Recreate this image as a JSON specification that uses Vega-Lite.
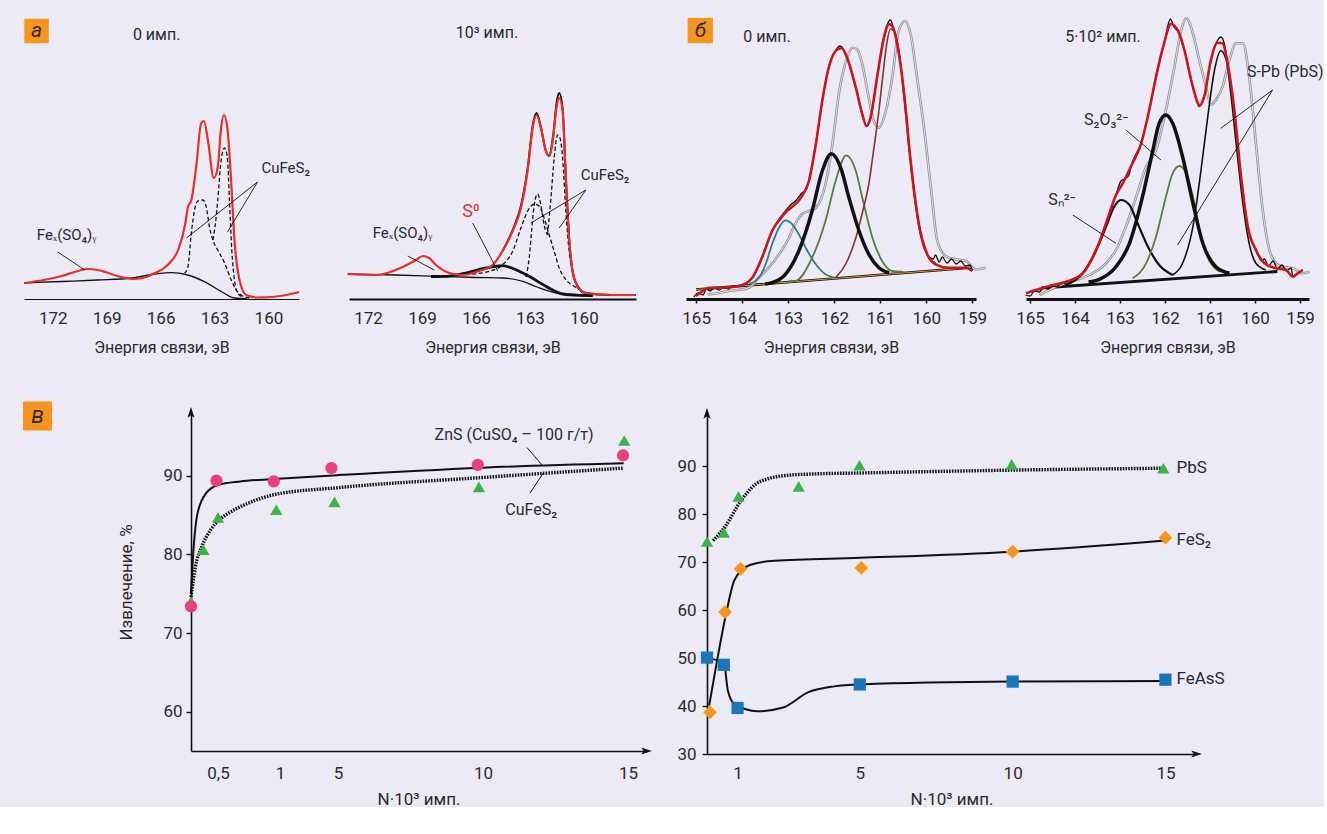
{
"$schema":"https://vega.github.io/schema/vega-lite/v6.json",
"background":"#ecebf5",
"padding":{"left":20,"top":9,"right":0,"bottom":0},
"spacing":45,
"align":"none",
"config":{
 "font":"Roboto",
 "view":{"stroke":null},
 "axis":{"grid":false,"domainColor":"#111111","tickColor":"#111111","labelColor":"#2a2a2a","titleColor":"#2a2a2a","titleFontWeight":"normal","labelFont":"Roboto","titleFont":"Roboto","labelFlush":false,"labelOverlap":false},
 "text":{"font":"Roboto","color":"#2a2a2a"}
},
"datasets":{
"spectra":[
{"p":"a0","s":"bg","E":173.6,"I":16},{"p":"a0","s":"bg","E":171.5,"I":17.5},{"p":"a0","s":"bg","E":169.5,"I":19},{"p":"a0","s":"bg","E":167.6,"I":21},{"p":"a0","s":"bg","E":166.3,"I":25},{"p":"a0","s":"bg","E":165.4,"I":26.3},{"p":"a0","s":"bg","E":164.5,"I":24},{"p":"a0","s":"bg","E":163.56,"I":17.3},{"p":"a0","s":"bg","E":162.6,"I":7.3},{"p":"a0","s":"bg","E":161.9,"I":1},{"p":"a0","s":"bg","E":161.2,"I":0.3},
{"p":"a0","s":"d1","E":164.67,"I":25.7},{"p":"a0","s":"d1","E":164.48,"I":32},{"p":"a0","s":"d1","E":164.29,"I":66},{"p":"a0","s":"d1","E":164.11,"I":89},{"p":"a0","s":"d1","E":163.93,"I":98},{"p":"a0","s":"d1","E":163.65,"I":99},{"p":"a0","s":"d1","E":163.46,"I":92},{"p":"a0","s":"d1","E":163.28,"I":72},{"p":"a0","s":"d1","E":163.09,"I":59},{"p":"a0","s":"d1","E":162.82,"I":49},{"p":"a0","s":"d1","E":162.44,"I":36},{"p":"a0","s":"d1","E":162.07,"I":19},{"p":"a0","s":"d1","E":161.79,"I":9},{"p":"a0","s":"d1","E":161.52,"I":4},{"p":"a0","s":"d1","E":161.06,"I":1},
{"p":"a0","s":"d2","E":163.09,"I":59},{"p":"a0","s":"d2","E":162.94,"I":77},{"p":"a0","s":"d2","E":162.82,"I":99},{"p":"a0","s":"d2","E":162.63,"I":139},{"p":"a0","s":"d2","E":162.44,"I":151},{"p":"a0","s":"d2","E":162.29,"I":142},{"p":"a0","s":"d2","E":162.17,"I":99},{"p":"a0","s":"d2","E":162.04,"I":49},{"p":"a0","s":"d2","E":161.89,"I":19},{"p":"a0","s":"d2","E":161.71,"I":6},{"p":"a0","s":"d2","E":161.44,"I":2},
{"p":"a0","s":"red","E":173.56,"I":16},{"p":"a0","s":"red","E":172.5,"I":19},{"p":"a0","s":"red","E":171.5,"I":23},{"p":"a0","s":"red","E":170.6,"I":28},{"p":"a0","s":"red","E":170.1,"I":30},{"p":"a0","s":"red","E":169.5,"I":29},{"p":"a0","s":"red","E":168.9,"I":26},{"p":"a0","s":"red","E":168.2,"I":22},{"p":"a0","s":"red","E":167.5,"I":20},{"p":"a0","s":"red","E":166.8,"I":22},{"p":"a0","s":"red","E":166.3,"I":26},{"p":"a0","s":"red","E":165.8,"I":31},{"p":"a0","s":"red","E":165.4,"I":38},{"p":"a0","s":"red","E":165.0,"I":50},{"p":"a0","s":"red","E":164.6,"I":78},{"p":"a0","s":"red","E":164.48,"I":92},{"p":"a0","s":"red","E":164.29,"I":99},{"p":"a0","s":"red","E":164.02,"I":132},{"p":"a0","s":"red","E":163.74,"I":176},{"p":"a0","s":"red","E":163.59,"I":178},{"p":"a0","s":"red","E":163.37,"I":159},{"p":"a0","s":"red","E":163.04,"I":121},{"p":"a0","s":"red","E":162.82,"I":132},{"p":"a0","s":"red","E":162.63,"I":172},{"p":"a0","s":"red","E":162.48,"I":184},{"p":"a0","s":"red","E":162.29,"I":172},{"p":"a0","s":"red","E":162.07,"I":116},{"p":"a0","s":"red","E":161.89,"I":59},{"p":"a0","s":"red","E":161.61,"I":19},{"p":"a0","s":"red","E":161.24,"I":4},{"p":"a0","s":"red","E":160.6,"I":1.5},{"p":"a0","s":"red","E":159.8,"I":2},{"p":"a0","s":"red","E":159.0,"I":4},{"p":"a0","s":"red","E":158.3,"I":7},
{"p":"a1","s":"bg","E":173.13,"I":25},{"p":"a1","s":"bg","E":170.5,"I":24},{"p":"a1","s":"bg","E":168.2,"I":22.7},{"p":"a1","s":"bg","E":166.0,"I":21.5},{"p":"a1","s":"bg","E":164.5,"I":21},{"p":"a1","s":"bg","E":163.4,"I":17.7},{"p":"a1","s":"bg","E":162.6,"I":12},{"p":"a1","s":"bg","E":161.9,"I":7.7},{"p":"a1","s":"bg","E":160.8,"I":4.3},{"p":"a1","s":"bg","E":159.0,"I":4.3},{"p":"a1","s":"bg","E":157.1,"I":4.3},
{"p":"a1","s":"s0","E":168.5,"I":22.5},{"p":"a1","s":"s0","E":167.67,"I":22.7},{"p":"a1","s":"s0","E":166.56,"I":26},{"p":"a1","s":"s0","E":165.44,"I":31},{"p":"a1","s":"s0","E":164.52,"I":33.3},{"p":"a1","s":"s0","E":163.78,"I":29.3},{"p":"a1","s":"s0","E":163.04,"I":22.7},{"p":"a1","s":"s0","E":162.11,"I":12.7},{"p":"a1","s":"s0","E":161.18,"I":5},{"p":"a1","s":"s0","E":160.26,"I":3.7},{"p":"a1","s":"s0","E":159.5,"I":3.5},
{"p":"a1","s":"dA","E":166.56,"I":24.3},{"p":"a1","s":"dA","E":165.26,"I":27.7},{"p":"a1","s":"dA","E":164.52,"I":34.3},{"p":"a1","s":"dA","E":163.96,"I":47.7},{"p":"a1","s":"dA","E":163.5,"I":71},{"p":"a1","s":"dA","E":163.13,"I":87.7},{"p":"a1","s":"dA","E":162.76,"I":95},{"p":"a1","s":"dA","E":162.48,"I":92.7},{"p":"a1","s":"dA","E":162.21,"I":81},{"p":"a1","s":"dA","E":161.93,"I":64.3},{"p":"a1","s":"dA","E":161.65,"I":47.7},{"p":"a1","s":"dA","E":161.37,"I":31},{"p":"a1","s":"dA","E":161.0,"I":19.3},{"p":"a1","s":"dA","E":160.54,"I":12.7},{"p":"a1","s":"dA","E":160.1,"I":8},
{"p":"a1","s":"dB","E":163.22,"I":22},{"p":"a1","s":"dB","E":163.04,"I":41},{"p":"a1","s":"dB","E":162.89,"I":71},{"p":"a1","s":"dB","E":162.76,"I":94},{"p":"a1","s":"dB","E":162.57,"I":105},{"p":"a1","s":"dB","E":162.39,"I":94},{"p":"a1","s":"dB","E":162.21,"I":74},{"p":"a1","s":"dB","E":162.02,"I":64},
{"p":"a1","s":"dC","E":162.02,"I":64},{"p":"a1","s":"dC","E":161.83,"I":101},{"p":"a1","s":"dC","E":161.65,"I":141},{"p":"a1","s":"dC","E":161.46,"I":164},{"p":"a1","s":"dC","E":161.33,"I":161},{"p":"a1","s":"dC","E":161.18,"I":141},{"p":"a1","s":"dC","E":161.0,"I":88},{"p":"a1","s":"dC","E":160.82,"I":48},{"p":"a1","s":"dC","E":160.54,"I":21},{"p":"a1","s":"dC","E":160.26,"I":9},{"p":"a1","s":"dC","E":159.89,"I":5},
{"p":"a1","s":"blk","E":164.52,"I":48},{"p":"a1","s":"blk","E":163.96,"I":69},{"p":"a1","s":"blk","E":163.5,"I":93},{"p":"a1","s":"blk","E":163.13,"I":130},{"p":"a1","s":"blk","E":162.82,"I":176},{"p":"a1","s":"blk","E":162.63,"I":186},{"p":"a1","s":"blk","E":162.39,"I":172},{"p":"a1","s":"blk","E":162.11,"I":148},{"p":"a1","s":"blk","E":161.93,"I":143},{"p":"a1","s":"blk","E":161.71,"I":163},{"p":"a1","s":"blk","E":161.5,"I":198},{"p":"a1","s":"blk","E":161.37,"I":206},{"p":"a1","s":"blk","E":161.18,"I":190},{"p":"a1","s":"blk","E":161.0,"I":121},{"p":"a1","s":"blk","E":160.82,"I":61},{"p":"a1","s":"blk","E":160.63,"I":28},{"p":"a1","s":"blk","E":160.35,"I":13},{"p":"a1","s":"blk","E":159.89,"I":6},{"p":"a1","s":"blk","E":158.41,"I":4},{"p":"a1","s":"blk","E":157.11,"I":4},
{"p":"a1","s":"red","E":173.13,"I":25},{"p":"a1","s":"red","E":171.56,"I":24},{"p":"a1","s":"red","E":170.07,"I":32},{"p":"a1","s":"red","E":169.33,"I":39},{"p":"a1","s":"red","E":168.96,"I":43},{"p":"a1","s":"red","E":168.61,"I":41},{"p":"a1","s":"red","E":168.22,"I":34},{"p":"a1","s":"red","E":167.48,"I":26},{"p":"a1","s":"red","E":166.74,"I":24},{"p":"a1","s":"red","E":165.82,"I":28},{"p":"a1","s":"red","E":165.07,"I":34},{"p":"a1","s":"red","E":164.52,"I":48},{"p":"a1","s":"red","E":163.96,"I":68},{"p":"a1","s":"red","E":163.5,"I":91},{"p":"a1","s":"red","E":163.13,"I":128},{"p":"a1","s":"red","E":162.82,"I":174},{"p":"a1","s":"red","E":162.63,"I":184},{"p":"a1","s":"red","E":162.39,"I":171},{"p":"a1","s":"red","E":162.11,"I":148},{"p":"a1","s":"red","E":161.93,"I":143},{"p":"a1","s":"red","E":161.71,"I":161},{"p":"a1","s":"red","E":161.5,"I":194},{"p":"a1","s":"red","E":161.37,"I":201},{"p":"a1","s":"red","E":161.18,"I":188},{"p":"a1","s":"red","E":161.0,"I":121},{"p":"a1","s":"red","E":160.82,"I":61},{"p":"a1","s":"red","E":160.63,"I":28},{"p":"a1","s":"red","E":160.35,"I":13},{"p":"a1","s":"red","E":159.89,"I":6},{"p":"a1","s":"red","E":158.41,"I":4},{"p":"a1","s":"red","E":157.11,"I":4},
{"p":"b0","s":"base","E":165.0,"I":9.5},{"p":"b0","s":"base","E":159.0,"I":31.5},
{"p":"b0","s":"gray","E":164.75,"I":4.5},{"p":"b0","s":"gray","E":164.5,"I":6},{"p":"b0","s":"gray","E":164.29,"I":8},{"p":"b0","s":"gray","E":164.1,"I":9},{"p":"b0","s":"gray","E":163.85,"I":11.3},{"p":"b0","s":"gray","E":163.64,"I":21.3},{"p":"b0","s":"gray","E":163.42,"I":31.3},{"p":"b0","s":"gray","E":163.2,"I":44.7},{"p":"b0","s":"gray","E":162.98,"I":61.3},{"p":"b0","s":"gray","E":162.85,"I":75},{"p":"b0","s":"gray","E":162.7,"I":84.7},{"p":"b0","s":"gray","E":162.55,"I":88},{"p":"b0","s":"gray","E":162.4,"I":91.3},{"p":"b0","s":"gray","E":162.19,"I":114.7},{"p":"b0","s":"gray","E":162.04,"I":154.7},{"p":"b0","s":"gray","E":161.9,"I":204.7},{"p":"b0","s":"gray","E":161.72,"I":241.3},{"p":"b0","s":"gray","E":161.61,"I":251.3},{"p":"b0","s":"gray","E":161.5,"I":249.7},{"p":"b0","s":"gray","E":161.39,"I":234.7},{"p":"b0","s":"gray","E":161.25,"I":201.3},{"p":"b0","s":"gray","E":161.14,"I":178},{"p":"b0","s":"gray","E":161.03,"I":171.3},{"p":"b0","s":"gray","E":160.88,"I":188},{"p":"b0","s":"gray","E":160.74,"I":221.3},{"p":"b0","s":"gray","E":160.6,"I":268},{"p":"b0","s":"gray","E":160.46,"I":278},{"p":"b0","s":"gray","E":160.34,"I":264.7},{"p":"b0","s":"gray","E":160.2,"I":221.3},{"p":"b0","s":"gray","E":160.05,"I":171.3},{"p":"b0","s":"gray","E":159.9,"I":111.3},{"p":"b0","s":"gray","E":159.76,"I":58},{"p":"b0","s":"gray","E":159.58,"I":43},{"p":"b0","s":"gray","E":159.36,"I":39.7},{"p":"b0","s":"gray","E":159.14,"I":38},{"p":"b0","s":"gray","E":158.93,"I":29.7},{"p":"b0","s":"gray","E":158.71,"I":31.3},
{"p":"b0","s":"teal","E":163.85,"I":15},{"p":"b0","s":"teal","E":163.64,"I":21.3},{"p":"b0","s":"teal","E":163.49,"I":34.7},{"p":"b0","s":"teal","E":163.35,"I":54.7},{"p":"b0","s":"teal","E":163.2,"I":71.3},{"p":"b0","s":"teal","E":163.06,"I":78.7},{"p":"b0","s":"teal","E":162.91,"I":74.7},{"p":"b0","s":"teal","E":162.77,"I":64.7},{"p":"b0","s":"teal","E":162.62,"I":51.3},{"p":"b0","s":"teal","E":162.4,"I":34.7},{"p":"b0","s":"teal","E":162.19,"I":24.7},{"p":"b0","s":"teal","E":161.97,"I":21.3},
{"p":"b0","s":"green","E":163.0,"I":17.5},{"p":"b0","s":"green","E":162.84,"I":18},{"p":"b0","s":"green","E":162.48,"I":41.3},{"p":"b0","s":"green","E":162.19,"I":78},{"p":"b0","s":"green","E":161.97,"I":118},{"p":"b0","s":"green","E":161.74,"I":143.7},{"p":"b0","s":"green","E":161.53,"I":128},{"p":"b0","s":"green","E":161.39,"I":101.3},{"p":"b0","s":"green","E":161.17,"I":61.3},{"p":"b0","s":"green","E":160.96,"I":38},{"p":"b0","s":"green","E":160.74,"I":28},{"p":"b0","s":"green","E":160.5,"I":27},
{"p":"b0","s":"brown","E":161.97,"I":21.3},{"p":"b0","s":"brown","E":161.75,"I":35},{"p":"b0","s":"brown","E":161.53,"I":61.3},{"p":"b0","s":"brown","E":161.39,"I":86},{"p":"b0","s":"brown","E":161.25,"I":114.7},{"p":"b0","s":"brown","E":161.14,"I":150},{"p":"b0","s":"brown","E":161.03,"I":188},{"p":"b0","s":"brown","E":160.94,"I":225},{"p":"b0","s":"brown","E":160.85,"I":258},{"p":"b0","s":"brown","E":160.78,"I":270},{"p":"b0","s":"brown","E":160.7,"I":268},{"p":"b0","s":"brown","E":160.6,"I":250},{"p":"b0","s":"brown","E":160.48,"I":200},{"p":"b0","s":"brown","E":160.34,"I":135},{"p":"b0","s":"brown","E":160.16,"I":72},{"p":"b0","s":"brown","E":159.98,"I":44},{"p":"b0","s":"brown","E":159.8,"I":36},
{"p":"b0","s":"blkc","E":163.5,"I":15},{"p":"b0","s":"blkc","E":163.35,"I":16.3},{"p":"b0","s":"blkc","E":163.06,"I":24.7},{"p":"b0","s":"blkc","E":162.77,"I":48},{"p":"b0","s":"blkc","E":162.48,"I":88},{"p":"b0","s":"blkc","E":162.26,"I":128},{"p":"b0","s":"blkc","E":162.06,"I":145.3},{"p":"b0","s":"blkc","E":161.86,"I":131.3},{"p":"b0","s":"blkc","E":161.68,"I":101.3},{"p":"b0","s":"blkc","E":161.46,"I":68},{"p":"b0","s":"blkc","E":161.25,"I":44.7},{"p":"b0","s":"blkc","E":161.03,"I":31.3},{"p":"b0","s":"blkc","E":160.81,"I":26.3},
{"p":"b0","s":"blk","E":165.05,"I":2},{"p":"b0","s":"blk","E":164.95,"I":6},{"p":"b0","s":"blk","E":164.85,"I":4},{"p":"b0","s":"blk","E":164.78,"I":10},{"p":"b0","s":"blk","E":164.7,"I":8},{"p":"b0","s":"blk","E":164.6,"I":11},{"p":"b0","s":"blk","E":164.5,"I":9},{"p":"b0","s":"blk","E":164.4,"I":12},{"p":"b0","s":"blk","E":164.3,"I":10},{"p":"b0","s":"blk","E":164.2,"I":13},{"p":"b0","s":"blk","E":164.07,"I":13},{"p":"b0","s":"blk","E":163.78,"I":21},{"p":"b0","s":"blk","E":163.57,"I":41},{"p":"b0","s":"blk","E":163.35,"I":68},{"p":"b0","s":"blk","E":163.2,"I":80},{"p":"b0","s":"blk","E":163.06,"I":88},{"p":"b0","s":"blk","E":162.95,"I":94},{"p":"b0","s":"blk","E":162.84,"I":98},{"p":"b0","s":"blk","E":162.77,"I":102},{"p":"b0","s":"blk","E":162.7,"I":106},{"p":"b0","s":"blk","E":162.6,"I":110},{"p":"b0","s":"blk","E":162.55,"I":118},{"p":"b0","s":"blk","E":162.4,"I":155},{"p":"b0","s":"blk","E":162.26,"I":198},{"p":"b0","s":"blk","E":162.12,"I":231},{"p":"b0","s":"blk","E":161.95,"I":250},{"p":"b0","s":"blk","E":161.88,"I":253},{"p":"b0","s":"blk","E":161.8,"I":250},{"p":"b0","s":"blk","E":161.72,"I":241},{"p":"b0","s":"blk","E":161.53,"I":211},{"p":"b0","s":"blk","E":161.39,"I":185},{"p":"b0","s":"blk","E":161.3,"I":173},{"p":"b0","s":"blk","E":161.21,"I":181},{"p":"b0","s":"blk","E":161.07,"I":221},{"p":"b0","s":"blk","E":160.92,"I":263},{"p":"b0","s":"blk","E":160.78,"I":279},{"p":"b0","s":"blk","E":160.72,"I":272},{"p":"b0","s":"blk","E":160.63,"I":255},{"p":"b0","s":"blk","E":160.48,"I":205},{"p":"b0","s":"blk","E":160.34,"I":138},{"p":"b0","s":"blk","E":160.16,"I":75},{"p":"b0","s":"blk","E":159.98,"I":45},{"p":"b0","s":"blk","E":159.85,"I":40},{"p":"b0","s":"blk","E":159.8,"I":44},{"p":"b0","s":"blk","E":159.72,"I":37},{"p":"b0","s":"blk","E":159.65,"I":42},{"p":"b0","s":"blk","E":159.55,"I":36},{"p":"b0","s":"blk","E":159.45,"I":40},{"p":"b0","s":"blk","E":159.35,"I":35},{"p":"b0","s":"blk","E":159.25,"I":38},{"p":"b0","s":"blk","E":159.15,"I":33},{"p":"b0","s":"blk","E":159.05,"I":34},{"p":"b0","s":"blk","E":159.0,"I":28},
{"p":"b0","s":"red","E":165.01,"I":3},{"p":"b0","s":"red","E":164.85,"I":8},{"p":"b0","s":"red","E":164.72,"I":11.3},{"p":"b0","s":"red","E":164.43,"I":11.3},{"p":"b0","s":"red","E":164.07,"I":13},{"p":"b0","s":"red","E":163.78,"I":21.3},{"p":"b0","s":"red","E":163.57,"I":41.3},{"p":"b0","s":"red","E":163.35,"I":68},{"p":"b0","s":"red","E":163.06,"I":86.3},{"p":"b0","s":"red","E":162.7,"I":103},{"p":"b0","s":"red","E":162.55,"I":118},{"p":"b0","s":"red","E":162.4,"I":154.7},{"p":"b0","s":"red","E":162.26,"I":198},{"p":"b0","s":"red","E":162.12,"I":231.3},{"p":"b0","s":"red","E":161.93,"I":249.7},{"p":"b0","s":"red","E":161.84,"I":250.7},{"p":"b0","s":"red","E":161.72,"I":241.3},{"p":"b0","s":"red","E":161.53,"I":211.3},{"p":"b0","s":"red","E":161.39,"I":184.7},{"p":"b0","s":"red","E":161.3,"I":173},{"p":"b0","s":"red","E":161.21,"I":181.3},{"p":"b0","s":"red","E":161.07,"I":221.3},{"p":"b0","s":"red","E":160.92,"I":261.3},{"p":"b0","s":"red","E":160.81,"I":274.7},{"p":"b0","s":"red","E":160.74,"I":273},{"p":"b0","s":"red","E":160.63,"I":254.7},{"p":"b0","s":"red","E":160.48,"I":204.7},{"p":"b0","s":"red","E":160.34,"I":138},{"p":"b0","s":"red","E":160.16,"I":74.7},{"p":"b0","s":"red","E":159.98,"I":44.7},{"p":"b0","s":"red","E":159.8,"I":34.7},{"p":"b0","s":"red","E":159.51,"I":31.3},{"p":"b0","s":"red","E":159.14,"I":31.3},{"p":"b0","s":"red","E":159.0,"I":28},
{"p":"b1","s":"base","E":164.75,"I":11},{"p":"b1","s":"base","E":159.5,"I":27.5},
{"p":"b1","s":"gray","E":164.79,"I":4},{"p":"b1","s":"gray","E":164.42,"I":12.3},{"p":"b1","s":"gray","E":163.98,"I":19},{"p":"b1","s":"gray","E":163.61,"I":25.7},{"p":"b1","s":"gray","E":163.31,"I":35.7},{"p":"b1","s":"gray","E":163.09,"I":49},{"p":"b1","s":"gray","E":162.87,"I":72.3},{"p":"b1","s":"gray","E":162.64,"I":102.3},{"p":"b1","s":"gray","E":162.42,"I":132.3},{"p":"b1","s":"gray","E":162.2,"I":149},{"p":"b1","s":"gray","E":161.98,"I":189},{"p":"b1","s":"gray","E":161.79,"I":232.3},{"p":"b1","s":"gray","E":161.64,"I":269},{"p":"b1","s":"gray","E":161.53,"I":280.7},{"p":"b1","s":"gray","E":161.38,"I":265.7},{"p":"b1","s":"gray","E":161.24,"I":239},{"p":"b1","s":"gray","E":161.09,"I":212.3},{"p":"b1","s":"gray","E":160.98,"I":194},{"p":"b1","s":"gray","E":160.87,"I":199},{"p":"b1","s":"gray","E":160.72,"I":212.3},{"p":"b1","s":"gray","E":160.57,"I":239},{"p":"b1","s":"gray","E":160.42,"I":255.7},{"p":"b1","s":"gray","E":160.27,"I":255.7},{"p":"b1","s":"gray","E":160.13,"I":222.3},{"p":"b1","s":"gray","E":159.98,"I":155.7},{"p":"b1","s":"gray","E":159.83,"I":89},{"p":"b1","s":"gray","E":159.68,"I":49},{"p":"b1","s":"gray","E":159.53,"I":35.7},{"p":"b1","s":"gray","E":159.38,"I":32.3},{"p":"b1","s":"gray","E":159.16,"I":30.7},{"p":"b1","s":"gray","E":158.94,"I":25.7},{"p":"b1","s":"gray","E":158.79,"I":27.3},
{"p":"b1","s":"sn","E":164.2,"I":14},{"p":"b1","s":"sn","E":163.83,"I":25.7},{"p":"b1","s":"sn","E":163.53,"I":49},{"p":"b1","s":"sn","E":163.31,"I":72.3},{"p":"b1","s":"sn","E":163.13,"I":92.3},{"p":"b1","s":"sn","E":162.98,"I":99},{"p":"b1","s":"sn","E":162.79,"I":94},{"p":"b1","s":"sn","E":162.61,"I":75.7},{"p":"b1","s":"sn","E":162.38,"I":52.3},{"p":"b1","s":"sn","E":162.13,"I":34},{"p":"b1","s":"sn","E":161.83,"I":24},
{"p":"b1","s":"green","E":162.72,"I":20.7},{"p":"b1","s":"green","E":162.42,"I":35.7},{"p":"b1","s":"green","E":162.2,"I":62.3},{"p":"b1","s":"green","E":161.98,"I":102.3},{"p":"b1","s":"green","E":161.83,"I":125.7},{"p":"b1","s":"green","E":161.68,"I":133},{"p":"b1","s":"green","E":161.53,"I":125.7},{"p":"b1","s":"green","E":161.38,"I":102.3},{"p":"b1","s":"green","E":161.2,"I":62.3},{"p":"b1","s":"green","E":161.02,"I":39},{"p":"b1","s":"green","E":160.79,"I":27.3},
{"p":"b1","s":"s2o3","E":163.7,"I":17},{"p":"b1","s":"s2o3","E":163.46,"I":19.7},{"p":"b1","s":"s2o3","E":163.09,"I":32.3},{"p":"b1","s":"s2o3","E":162.79,"I":55.7},{"p":"b1","s":"s2o3","E":162.5,"I":102.3},{"p":"b1","s":"s2o3","E":162.27,"I":149},{"p":"b1","s":"s2o3","E":162.13,"I":175.7},{"p":"b1","s":"s2o3","E":161.98,"I":184},{"p":"b1","s":"s2o3","E":161.83,"I":175.7},{"p":"b1","s":"s2o3","E":161.61,"I":142.3},{"p":"b1","s":"s2o3","E":161.38,"I":95.7},{"p":"b1","s":"s2o3","E":161.16,"I":55.7},{"p":"b1","s":"s2o3","E":160.87,"I":32.3},{"p":"b1","s":"s2o3","E":160.57,"I":25.7},
{"p":"b1","s":"spb","E":161.83,"I":24},{"p":"b1","s":"spb","E":161.61,"I":35.7},{"p":"b1","s":"spb","E":161.38,"I":72.3},{"p":"b1","s":"spb","E":161.2,"I":129},{"p":"b1","s":"spb","E":161.05,"I":182.3},{"p":"b1","s":"spb","E":160.9,"I":229},{"p":"b1","s":"spb","E":160.76,"I":248.3},{"p":"b1","s":"spb","E":160.64,"I":239},{"p":"b1","s":"spb","E":160.53,"I":202.3},{"p":"b1","s":"spb","E":160.42,"I":155.7},{"p":"b1","s":"spb","E":160.27,"I":95.7},{"p":"b1","s":"spb","E":160.13,"I":55.7},{"p":"b1","s":"spb","E":159.98,"I":35.7},{"p":"b1","s":"spb","E":159.76,"I":29},
{"p":"b1","s":"blk","E":165.1,"I":4},{"p":"b1","s":"blk","E":165.0,"I":3},{"p":"b1","s":"blk","E":164.9,"I":8},{"p":"b1","s":"blk","E":164.8,"I":7},{"p":"b1","s":"blk","E":164.7,"I":11},{"p":"b1","s":"blk","E":164.6,"I":10},{"p":"b1","s":"blk","E":164.5,"I":13},{"p":"b1","s":"blk","E":164.4,"I":12},{"p":"b1","s":"blk","E":164.3,"I":16},{"p":"b1","s":"blk","E":164.2,"I":15},{"p":"b1","s":"blk","E":164.0,"I":20},{"p":"b1","s":"blk","E":163.83,"I":26},{"p":"b1","s":"blk","E":163.53,"I":49},{"p":"b1","s":"blk","E":163.31,"I":76},{"p":"b1","s":"blk","E":163.09,"I":104},{"p":"b1","s":"blk","E":162.98,"I":118},{"p":"b1","s":"blk","E":162.9,"I":120},{"p":"b1","s":"blk","E":162.8,"I":124},{"p":"b1","s":"blk","E":162.76,"I":132},{"p":"b1","s":"blk","E":162.53,"I":156},{"p":"b1","s":"blk","E":162.35,"I":189},{"p":"b1","s":"blk","E":162.2,"I":222},{"p":"b1","s":"blk","E":162.02,"I":256},{"p":"b1","s":"blk","E":161.88,"I":280},{"p":"b1","s":"blk","E":161.8,"I":272},{"p":"b1","s":"blk","E":161.72,"I":268},{"p":"b1","s":"blk","E":161.57,"I":249},{"p":"b1","s":"blk","E":161.42,"I":219},{"p":"b1","s":"blk","E":161.27,"I":196},{"p":"b1","s":"blk","E":161.24,"I":193},{"p":"b1","s":"blk","E":161.13,"I":202},{"p":"b1","s":"blk","E":160.98,"I":239},{"p":"b1","s":"blk","E":160.83,"I":259},{"p":"b1","s":"blk","E":160.76,"I":262},{"p":"b1","s":"blk","E":160.68,"I":255},{"p":"b1","s":"blk","E":160.61,"I":236},{"p":"b1","s":"blk","E":160.46,"I":189},{"p":"b1","s":"blk","E":160.31,"I":122},{"p":"b1","s":"blk","E":160.16,"I":72},{"p":"b1","s":"blk","E":159.98,"I":49},{"p":"b1","s":"blk","E":159.85,"I":38},{"p":"b1","s":"blk","E":159.79,"I":40},{"p":"b1","s":"blk","E":159.7,"I":33},{"p":"b1","s":"blk","E":159.6,"I":38},{"p":"b1","s":"blk","E":159.5,"I":30},{"p":"b1","s":"blk","E":159.4,"I":34},{"p":"b1","s":"blk","E":159.3,"I":28},{"p":"b1","s":"blk","E":159.2,"I":31},{"p":"b1","s":"blk","E":159.16,"I":23},{"p":"b1","s":"blk","E":159.05,"I":26},{"p":"b1","s":"blk","E":158.94,"I":29},
{"p":"b1","s":"red","E":165.09,"I":5.7},{"p":"b1","s":"red","E":164.87,"I":9},{"p":"b1","s":"red","E":164.57,"I":13},{"p":"b1","s":"red","E":164.2,"I":17.3},{"p":"b1","s":"red","E":163.83,"I":25.7},{"p":"b1","s":"red","E":163.53,"I":49},{"p":"b1","s":"red","E":163.31,"I":75.7},{"p":"b1","s":"red","E":163.09,"I":104},{"p":"b1","s":"red","E":162.94,"I":115.7},{"p":"b1","s":"red","E":162.76,"I":132.3},{"p":"b1","s":"red","E":162.53,"I":155.7},{"p":"b1","s":"red","E":162.35,"I":189},{"p":"b1","s":"red","E":162.2,"I":222.3},{"p":"b1","s":"red","E":162.02,"I":255.7},{"p":"b1","s":"red","E":161.87,"I":275},{"p":"b1","s":"red","E":161.72,"I":269},{"p":"b1","s":"red","E":161.57,"I":249},{"p":"b1","s":"red","E":161.42,"I":219},{"p":"b1","s":"red","E":161.27,"I":195.7},{"p":"b1","s":"red","E":161.24,"I":193},{"p":"b1","s":"red","E":161.13,"I":202.3},{"p":"b1","s":"red","E":160.98,"I":239},{"p":"b1","s":"red","E":160.83,"I":256.3},{"p":"b1","s":"red","E":160.72,"I":255.7},{"p":"b1","s":"red","E":160.61,"I":235.7},{"p":"b1","s":"red","E":160.46,"I":189},{"p":"b1","s":"red","E":160.31,"I":122.3},{"p":"b1","s":"red","E":160.16,"I":72.3},{"p":"b1","s":"red","E":159.98,"I":49},{"p":"b1","s":"red","E":159.79,"I":35.7},{"p":"b1","s":"red","E":159.53,"I":30.7},{"p":"b1","s":"red","E":159.31,"I":29},{"p":"b1","s":"red","E":159.16,"I":22.3},{"p":"b1","s":"red","E":159.05,"I":25.7},{"p":"b1","s":"red","E":158.94,"I":29}
],
"notes":[
{"p":"a0","k":"ctr","E":166.22,"I":264,"t":"0 имп."},
{"p":"a0","k":"box","E":172.9,"I":268,"t":"а"},
{"p":"a0","k":"lab","E":160.39,"I":131,"t":"CuFeS₂"},
{"p":"a0","k":"lab","E":172.89,"I":64,"t":"Feₓ(SO₄)ᵧ"},
{"p":"a1","k":"ctr","E":165.39,"I":266,"t":"10³ имп."},
{"p":"a1","k":"red","E":166.28,"I":87,"t":"S⁰"},
{"p":"a1","k":"lab","E":160.17,"I":124,"t":"CuFeS₂"},
{"p":"a1","k":"lab","E":171.74,"I":66,"t":"Feₓ(SO₄)ᵧ"},
{"p":"b0","k":"box","E":164.91,"I":268.5,"t":"б"},
{"p":"b0","k":"ctr","E":163.46,"I":262,"t":"0 имп."},
{"p":"b1","k":"ctr","E":163.38,"I":262,"t":"5·10² имп."},
{"p":"b1","k":"lab","E":160.18,"I":227,"t":"S-Pb (PbS)"},
{"p":"b1","k":"ctr","E":163.31,"I":179,"t":"S₂O₃²⁻"},
{"p":"b1","k":"ctr","E":164.29,"I":99,"t":"Sₙ²⁻"}
],
"arrows":[
{"p":"a0","E":160.61,"I":117,"E2":164.56,"I2":61},
{"p":"a0","E":160.61,"I":117,"E2":162.28,"I2":67},
{"p":"a0","E":171.72,"I":47,"E2":170.22,"I2":29},
{"p":"a1","E":166.18,"I":76,"E2":164.79,"I2":28},
{"p":"a1","E":159.89,"I":109,"E2":162.94,"I2":76},
{"p":"a1","E":159.89,"I":109,"E2":161.37,"I2":71},
{"p":"a1","E":169.79,"I":43,"E2":168.32,"I2":29},
{"p":"b1","E":159.61,"I":209,"E2":160.76,"I2":170.7},
{"p":"b1","E":159.61,"I":209,"E2":161.72,"I2":54},
{"p":"b1","E":162.87,"I":169,"E2":162.09,"I2":139},
{"p":"b1","E":164.05,"I":84,"E2":163.09,"I2":55.7}
],
"rec":[
{"p":"c0","s":"ZnS","N":0,"R":73.4},{"p":"c0","s":"ZnS","N":0.47,"R":89.4},{"p":"c0","s":"ZnS","N":0.95,"R":89.3},{"p":"c0","s":"ZnS","N":4.55,"R":91.0},{"p":"c0","s":"ZnS","N":9.82,"R":91.4},{"p":"c0","s":"ZnS","N":14.83,"R":92.6},
{"p":"c0","s":"CuFeS2","N":0,"R":74.0},{"p":"c0","s":"CuFeS2","N":0.23,"R":80.6},{"p":"c0","s":"CuFeS2","N":0.5,"R":84.7},{"p":"c0","s":"CuFeS2","N":0.97,"R":85.7},{"p":"c0","s":"CuFeS2","N":4.76,"R":86.7},{"p":"c0","s":"CuFeS2","N":9.86,"R":88.6},{"p":"c0","s":"CuFeS2","N":14.87,"R":94.5},
{"p":"c1","s":"PbS","N":0,"R":74.3},{"p":"c1","s":"PbS","N":0.55,"R":76.2},{"p":"c1","s":"PbS","N":1.03,"R":83.7},{"p":"c1","s":"PbS","N":3.0,"R":85.8},{"p":"c1","s":"PbS","N":4.99,"R":90.2},{"p":"c1","s":"PbS","N":9.97,"R":90.4},{"p":"c1","s":"PbS","N":14.93,"R":89.6},
{"p":"c1","s":"FeS2","N":0.1,"R":38.7},{"p":"c1","s":"FeS2","N":0.59,"R":59.6},{"p":"c1","s":"FeS2","N":1.1,"R":68.6},{"p":"c1","s":"FeS2","N":5.05,"R":68.8},{"p":"c1","s":"FeS2","N":10.0,"R":72.2},{"p":"c1","s":"FeS2","N":15.0,"R":75.1},
{"p":"c1","s":"FeAsS","N":0,"R":50.1},{"p":"c1","s":"FeAsS","N":0.55,"R":48.6},{"p":"c1","s":"FeAsS","N":1.0,"R":39.6},{"p":"c1","s":"FeAsS","N":5.0,"R":44.5},{"p":"c1","s":"FeAsS","N":10.0,"R":45.1},{"p":"c1","s":"FeAsS","N":15.0,"R":45.5}
],
"fit":[
{"p":"c0","s":"ZnS","N":0,"R":75.0},{"p":"c0","s":"ZnS","N":0.05,"R":81},{"p":"c0","s":"ZnS","N":0.12,"R":85.2},{"p":"c0","s":"ZnS","N":0.28,"R":87.8},{"p":"c0","s":"ZnS","N":0.5,"R":88.85},{"p":"c0","s":"ZnS","N":0.68,"R":89.3},{"p":"c0","s":"ZnS","N":0.95,"R":89.6},{"p":"c0","s":"ZnS","N":5,"R":90.1},{"p":"c0","s":"ZnS","N":10,"R":91.05},{"p":"c0","s":"ZnS","N":14.85,"R":91.6},
{"p":"c0","s":"CuFeS2","N":0,"R":74.6},{"p":"c0","s":"CuFeS2","N":0.08,"R":78.4},{"p":"c0","s":"CuFeS2","N":0.2,"R":81},{"p":"c0","s":"CuFeS2","N":0.36,"R":83.1},{"p":"c0","s":"CuFeS2","N":0.51,"R":84.4},{"p":"c0","s":"CuFeS2","N":0.6,"R":85.4},{"p":"c0","s":"CuFeS2","N":0.74,"R":86.5},{"p":"c0","s":"CuFeS2","N":0.95,"R":87.6},{"p":"c0","s":"CuFeS2","N":5,"R":88.5},{"p":"c0","s":"CuFeS2","N":10,"R":89.8},{"p":"c0","s":"CuFeS2","N":14.85,"R":91.0},
{"p":"c1","s":"PbS","N":0.2,"R":74.5},{"p":"c1","s":"PbS","N":0.6,"R":77.5},{"p":"c1","s":"PbS","N":1.1,"R":82.7},{"p":"c1","s":"PbS","N":1.6,"R":86.3},{"p":"c1","s":"PbS","N":2.0,"R":87.4},{"p":"c1","s":"PbS","N":2.6,"R":88.1},{"p":"c1","s":"PbS","N":3.5,"R":88.4},{"p":"c1","s":"PbS","N":5,"R":88.6},{"p":"c1","s":"PbS","N":10,"R":89.2},{"p":"c1","s":"PbS","N":15,"R":89.6},
{"p":"c1","s":"FeS2","N":0.07,"R":40.1},{"p":"c1","s":"FeS2","N":0.35,"R":50.2},{"p":"c1","s":"FeS2","N":0.63,"R":59.4},{"p":"c1","s":"FeS2","N":0.9,"R":66.3},{"p":"c1","s":"FeS2","N":1.4,"R":69.4},{"p":"c1","s":"FeS2","N":2.2,"R":70.3},{"p":"c1","s":"FeS2","N":5,"R":70.9},{"p":"c1","s":"FeS2","N":10,"R":72.2},{"p":"c1","s":"FeS2","N":15,"R":74.5},
{"p":"c1","s":"FeAsS","N":0,"R":50.1},{"p":"c1","s":"FeAsS","N":0.56,"R":48.8},{"p":"c1","s":"FeAsS","N":0.68,"R":43.3},{"p":"c1","s":"FeAsS","N":0.89,"R":40.5},{"p":"c1","s":"FeAsS","N":1.65,"R":38.9},{"p":"c1","s":"FeAsS","N":2.49,"R":39.7},{"p":"c1","s":"FeAsS","N":3.32,"R":42.9},{"p":"c1","s":"FeAsS","N":4.16,"R":44.1},{"p":"c1","s":"FeAsS","N":5,"R":44.5},{"p":"c1","s":"FeAsS","N":10,"R":45.1},{"p":"c1","s":"FeAsS","N":15,"R":45.2}
],
"notes2":[
{"p":"c0","k":"ctr","N":11.07,"R":95.2,"t":"ZnS (CuSO₄ – 100 г/т)"},
{"p":"c0","k":"ctr","N":11.66,"R":85.7,"t":"CuFeS₂"},
{"p":"c1","k":"lab","N":15.36,"R":89.7,"t":"PbS"},
{"p":"c1","k":"lab","N":15.36,"R":74.7,"t":"FeS₂"},
{"p":"c1","k":"lab","N":15.36,"R":45.7,"t":"FeAsS"}
],
"arrows2":[
{"p":"c0","N":11.52,"R":93.6,"N2":12.03,"R2":91.4},
{"p":"c0","N":11.62,"R":87.8,"N2":12.1,"R2":90.5}
]
},
"vconcat":[
{"hconcat":[
{
"width":275,"height":290,
"encoding":{
 "x":{"field":"E","type":"quantitative","scale":{"domain":[158.3,173.6],"reverse":true,"nice":false,"zero":false},"axis":{"values":[172,169,166,163,160],"ticks":false,"domainWidth":1.2,"labelFontSize":17,"labelPadding":11,"title":"Энергия связи, эВ","titleFontSize":16,"titlePadding":13}},
 "y":{"field":"I","type":"quantitative","scale":{"domain":[0,290],"nice":false,"zero":false},"axis":null}
},
"layer":[
 {"data":{"name":"spectra"},"transform":[{"filter":"datum.p=='a0'&&datum.s=='bg'"}],"mark":{"type":"line","color":"#111111","strokeWidth":1.3,"interpolate":"monotone"},"encoding":{"order":{"field":"E","sort":"descending"}}},
 {"data":{"name":"spectra"},"transform":[{"filter":"datum.p=='a0'&&(datum.s=='d1'||datum.s=='d2')"}],"mark":{"type":"line","color":"#111111","strokeWidth":1.3,"strokeDash":[4,2.5],"interpolate":"monotone"},"encoding":{"detail":{"field":"s"},"order":{"field":"E","sort":"descending"}}},
 {"data":{"name":"spectra"},"transform":[{"filter":"datum.p=='a0'&&datum.s=='red'"}],"mark":{"type":"line","color":"#e3302a","strokeWidth":2.2,"interpolate":"monotone"},"encoding":{"order":{"field":"E","sort":"descending"}}},
 {"data":{"name":"arrows"},"transform":[{"filter":"datum.p=='a0'"}],"mark":{"type":"rule","color":"#111111","strokeWidth":0.9},"encoding":{"x2":{"field":"E2"},"y2":{"field":"I2"}}},
 {"data":{"name":"notes"},"transform":[{"filter":"datum.p=='a0'&&datum.k=='lab'"}],"mark":{"type":"text","align":"left","baseline":"middle","fontSize":15},"encoding":{"text":{"field":"t"}}},
 {"data":{"name":"notes"},"transform":[{"filter":"datum.p=='a0'&&datum.k=='ctr'"}],"mark":{"type":"text","align":"center","baseline":"middle","fontSize":16},"encoding":{"text":{"field":"t"}}},
 {"data":{"name":"notes"},"transform":[{"filter":"datum.p=='a0'&&datum.k=='box'"}],"mark":{"type":"point","shape":"square","filled":true,"color":"#f7941d","opacity":1,"size":600}},
 {"data":{"name":"notes"},"transform":[{"filter":"datum.p=='a0'&&datum.k=='box'"}],"mark":{"type":"text","align":"center","baseline":"middle","fontSize":21,"fontStyle":"italic","color":"#2a2a2a"},"encoding":{"text":{"field":"t"}}}
]
},
{
"width":287,"height":290,
"encoding":{
 "x":{"field":"E","type":"quantitative","scale":{"domain":[157.1,173.06],"reverse":true,"nice":false,"zero":false},"axis":{"values":[172,169,166,163,160],"ticks":false,"domainWidth":1.8,"labelFontSize":17,"labelPadding":11,"title":"Энергия связи, эВ","titleFontSize":16,"titlePadding":13}},
 "y":{"field":"I","type":"quantitative","scale":{"domain":[0,290],"nice":false,"zero":false},"axis":null}
},
"layer":[
 {"data":{"name":"spectra"},"transform":[{"filter":"datum.p=='a1'&&datum.s=='bg'"}],"mark":{"type":"line","color":"#111111","strokeWidth":1.3,"interpolate":"monotone"},"encoding":{"order":{"field":"E","sort":"descending"}}},
 {"data":{"name":"spectra"},"transform":[{"filter":"datum.p=='a1'&&datum.s=='s0'"}],"mark":{"type":"line","color":"#111111","strokeWidth":2.8,"interpolate":"monotone"},"encoding":{"order":{"field":"E","sort":"descending"}}},
 {"data":{"name":"spectra"},"transform":[{"filter":"datum.p=='a1'&&(datum.s=='dA'||datum.s=='dB'||datum.s=='dC')"}],"mark":{"type":"line","color":"#111111","strokeWidth":1.3,"strokeDash":[4,2.5],"interpolate":"monotone"},"encoding":{"detail":{"field":"s"},"order":{"field":"E","sort":"descending"}}},
 {"data":{"name":"spectra"},"transform":[{"filter":"datum.p=='a1'&&datum.s=='blk'"}],"mark":{"type":"line","color":"#111111","strokeWidth":2,"interpolate":"monotone"},"encoding":{"order":{"field":"E","sort":"descending"}}},
 {"data":{"name":"spectra"},"transform":[{"filter":"datum.p=='a1'&&datum.s=='red'"}],"mark":{"type":"line","color":"#e3302a","strokeWidth":2.2,"interpolate":"monotone"},"encoding":{"order":{"field":"E","sort":"descending"}}},
 {"data":{"name":"arrows"},"transform":[{"filter":"datum.p=='a1'"}],"mark":{"type":"rule","color":"#111111","strokeWidth":0.9},"encoding":{"x2":{"field":"E2"},"y2":{"field":"I2"}}},
 {"data":{"name":"notes"},"transform":[{"filter":"datum.p=='a1'&&datum.k=='lab'"}],"mark":{"type":"text","align":"left","baseline":"middle","fontSize":15},"encoding":{"text":{"field":"t"}}},
 {"data":{"name":"notes"},"transform":[{"filter":"datum.p=='a1'&&datum.k=='ctr'"}],"mark":{"type":"text","align":"center","baseline":"middle","fontSize":16},"encoding":{"text":{"field":"t"}}},
 {"data":{"name":"notes"},"transform":[{"filter":"datum.p=='a1'&&datum.k=='red'"}],"mark":{"type":"text","align":"center","baseline":"middle","fontSize":18,"color":"#e3302a"},"encoding":{"text":{"field":"t"}}}
]
},
{
"width":290,"height":290,
"encoding":{
 "x":{"field":"E","type":"quantitative","scale":{"domain":[158.92,165.22],"reverse":true,"nice":false,"zero":false},"axis":{"values":[165,164,163,162,161,160,159],"ticks":true,"tickSize":4,"tickWidth":1.5,"domainWidth":3,"labelFontSize":17,"labelPadding":7,"title":"Энергия связи, эВ","titleFontSize":16,"titlePadding":13}},
 "y":{"field":"I","type":"quantitative","scale":{"domain":[0,290],"nice":false,"zero":false},"axis":null}
},
"layer":[
 {"data":{"name":"spectra"},"transform":[{"filter":"datum.p=='b0'&&datum.s=='base'"}],"mark":{"type":"line","color":"#111111","strokeWidth":2.6},"encoding":{"order":{"field":"E","sort":"descending"}}},
 {"data":{"name":"spectra"},"transform":[{"filter":"datum.p=='b0'&&datum.s=='base'"}],"mark":{"type":"line","color":"#e8922e","strokeWidth":1},"encoding":{"order":{"field":"E","sort":"descending"}}},
 {"data":{"name":"spectra"},"transform":[{"filter":"datum.p=='b0'&&datum.s=='gray'"}],"mark":{"type":"line","color":"#8f8f8f","strokeWidth":2.6,"interpolate":"monotone"},"encoding":{"order":{"field":"E","sort":"descending"}}},
 {"data":{"name":"spectra"},"transform":[{"filter":"datum.p=='b0'&&datum.s=='gray'"}],"mark":{"type":"line","color":"#ecebf5","strokeWidth":0.9,"interpolate":"monotone"},"encoding":{"order":{"field":"E","sort":"descending"}}},
 {"data":{"name":"spectra"},"transform":[{"filter":"datum.p=='b0'&&datum.s=='teal'"}],"mark":{"type":"line","color":"#2f7d8c","strokeWidth":1.8,"interpolate":"monotone"},"encoding":{"order":{"field":"E","sort":"descending"}}},
 {"data":{"name":"spectra"},"transform":[{"filter":"datum.p=='b0'&&datum.s=='green'"}],"mark":{"type":"line","color":"#5b7d3a","strokeWidth":1.8,"interpolate":"monotone"},"encoding":{"order":{"field":"E","sort":"descending"}}},
 {"data":{"name":"spectra"},"transform":[{"filter":"datum.p=='b0'&&datum.s=='brown'"}],"mark":{"type":"line","color":"#7b3434","strokeWidth":1.6,"interpolate":"monotone"},"encoding":{"order":{"field":"E","sort":"descending"}}},
 {"data":{"name":"spectra"},"transform":[{"filter":"datum.p=='b0'&&datum.s=='blkc'"}],"mark":{"type":"line","color":"#111111","strokeWidth":3.5,"interpolate":"monotone"},"encoding":{"order":{"field":"E","sort":"descending"}}},
 {"data":{"name":"spectra"},"transform":[{"filter":"datum.p=='b0'&&datum.s=='blk'"}],"mark":{"type":"line","color":"#111111","strokeWidth":1.3,"interpolate":"monotone"},"encoding":{"order":{"field":"E","sort":"descending"}}},
 {"data":{"name":"spectra"},"transform":[{"filter":"datum.p=='b0'&&datum.s=='red'"}],"mark":{"type":"line","color":"#c8161d","strokeWidth":2.6,"interpolate":"monotone"},"encoding":{"order":{"field":"E","sort":"descending"}}},
 {"data":{"name":"notes"},"transform":[{"filter":"datum.p=='b0'&&datum.k=='ctr'"}],"mark":{"type":"text","align":"center","baseline":"middle","fontSize":16},"encoding":{"text":{"field":"t"}}},
 {"data":{"name":"notes"},"transform":[{"filter":"datum.p=='b0'&&datum.k=='box'"}],"mark":{"type":"point","shape":"square","filled":true,"color":"#f7941d","opacity":1,"size":640}},
 {"data":{"name":"notes"},"transform":[{"filter":"datum.p=='b0'&&datum.k=='box'"}],"mark":{"type":"text","align":"center","baseline":"middle","fontSize":21,"fontStyle":"italic","color":"#2a2a2a"},"encoding":{"text":{"field":"t"}}}
]
},
{
"width":283,"height":290,
"encoding":{
 "x":{"field":"E","type":"quantitative","scale":{"domain":[158.8,165.09],"reverse":true,"nice":false,"zero":false},"axis":{"values":[165,164,163,162,161,160,159],"ticks":true,"tickSize":4,"tickWidth":1.5,"domainWidth":3,"labelFontSize":17,"labelPadding":7,"title":"Энергия связи, эВ","titleFontSize":16,"titlePadding":13}},
 "y":{"field":"I","type":"quantitative","scale":{"domain":[0,290],"nice":false,"zero":false},"axis":null}
},
"layer":[
 {"data":{"name":"spectra"},"transform":[{"filter":"datum.p=='b1'&&datum.s=='base'"}],"mark":{"type":"line","color":"#111111","strokeWidth":2.8},"encoding":{"order":{"field":"E","sort":"descending"}}},
 {"data":{"name":"spectra"},"transform":[{"filter":"datum.p=='b1'&&datum.s=='gray'"}],"mark":{"type":"line","color":"#8f8f8f","strokeWidth":2.6,"interpolate":"monotone"},"encoding":{"order":{"field":"E","sort":"descending"}}},
 {"data":{"name":"spectra"},"transform":[{"filter":"datum.p=='b1'&&datum.s=='gray'"}],"mark":{"type":"line","color":"#ecebf5","strokeWidth":0.9,"interpolate":"monotone"},"encoding":{"order":{"field":"E","sort":"descending"}}},
 {"data":{"name":"spectra"},"transform":[{"filter":"datum.p=='b1'&&datum.s=='sn'"}],"mark":{"type":"line","color":"#111111","strokeWidth":2.2,"interpolate":"monotone"},"encoding":{"order":{"field":"E","sort":"descending"}}},
 {"data":{"name":"spectra"},"transform":[{"filter":"datum.p=='b1'&&datum.s=='green'"}],"mark":{"type":"line","color":"#5b7d3a","strokeWidth":1.8,"interpolate":"monotone"},"encoding":{"order":{"field":"E","sort":"descending"}}},
 {"data":{"name":"spectra"},"transform":[{"filter":"datum.p=='b1'&&datum.s=='s2o3'"}],"mark":{"type":"line","color":"#111111","strokeWidth":3.5,"interpolate":"monotone"},"encoding":{"order":{"field":"E","sort":"descending"}}},
 {"data":{"name":"spectra"},"transform":[{"filter":"datum.p=='b1'&&datum.s=='spb'"}],"mark":{"type":"line","color":"#111111","strokeWidth":1.6,"interpolate":"monotone"},"encoding":{"order":{"field":"E","sort":"descending"}}},
 {"data":{"name":"spectra"},"transform":[{"filter":"datum.p=='b1'&&datum.s=='blk'"}],"mark":{"type":"line","color":"#111111","strokeWidth":1.3,"interpolate":"monotone"},"encoding":{"order":{"field":"E","sort":"descending"}}},
 {"data":{"name":"spectra"},"transform":[{"filter":"datum.p=='b1'&&datum.s=='red'"}],"mark":{"type":"line","color":"#c8161d","strokeWidth":2.6,"interpolate":"monotone"},"encoding":{"order":{"field":"E","sort":"descending"}}},
 {"data":{"name":"arrows"},"transform":[{"filter":"datum.p=='b1'"}],"mark":{"type":"rule","color":"#111111","strokeWidth":0.9},"encoding":{"x2":{"field":"E2"},"y2":{"field":"I2"}}},
 {"data":{"name":"notes"},"transform":[{"filter":"datum.p=='b1'&&datum.k=='lab'"}],"mark":{"type":"text","align":"left","baseline":"middle","fontSize":16},"encoding":{"text":{"field":"t"}}},
 {"data":{"name":"notes"},"transform":[{"filter":"datum.p=='b1'&&datum.k=='ctr'"}],"mark":{"type":"text","align":"center","baseline":"middle","fontSize":16},"encoding":{"text":{"field":"t"}}}
]
}
],"spacing":50,"bounds":"flush"},
{"hconcat":[
{
"width":106,"height":32,
"data":{"values":[{"t":"в"}]},
"layer":[
 {"mark":{"type":"point","shape":"square","filled":true,"color":"#f7941d","opacity":1,"size":841,"x":13.5}},
 {"mark":{"type":"text","align":"center","baseline":"middle","fontSize":23,"fontStyle":"italic","color":"#2a2a2a","x":13.5},"encoding":{"text":{"field":"t"}}}
]
},
{
"width":455,"height":351,
"layer":[
 {
 "encoding":{
  "x":{"field":"N","type":"quantitative","scale":{"domain":[0,0.5,1,5,10,15,15.7],"range":[0,27,89,147,292,437,455],"nice":false,"zero":false},"axis":{"values":[0.5,1,5,10,15],"format":".1~f","labelExpr":"replace(datum.label,'.',',')","ticks":false,"domainWidth":1.6,"labelFontSize":17,"labelPadding":14,"title":"N·10³ имп.","titleFontSize":17,"titlePadding":10}},
  "y":{"field":"R","type":"quantitative","scale":{"domain":[55,98],"range":[351,13],"nice":false,"zero":false},"axis":{"values":[60,70,80,90],"tickSize":5,"tickWidth":1.4,"domainWidth":1.6,"labelFontSize":17,"labelPadding":4,"title":"Извлечение, %","titleFontSize":17,"titlePadding":27}}
 },
 "layer":[
  {"data":{"name":"fit"},"transform":[{"filter":"datum.p=='c0'&&datum.s=='ZnS'"}],"mark":{"type":"line","color":"#111111","strokeWidth":2,"interpolate":"monotone"}},
  {"data":{"name":"fit"},"transform":[{"filter":"datum.p=='c0'&&datum.s=='CuFeS2'"}],"mark":{"type":"line","color":"#111111","strokeWidth":3.4,"strokeDash":[1.6,1.2],"interpolate":"monotone"}},
  {"data":{"name":"rec"},"transform":[{"filter":"datum.p=='c0'&&datum.s=='CuFeS2'"}],"mark":{"type":"point","shape":"triangle-up","filled":true,"color":"#3bb24a","opacity":1,"size":150}},
  {"data":{"name":"rec"},"transform":[{"filter":"datum.p=='c0'&&datum.s=='ZnS'"}],"mark":{"type":"point","shape":"circle","filled":true,"color":"#ec3f7c","opacity":1,"size":150}},
  {"data":{"name":"arrows2"},"transform":[{"filter":"datum.p=='c0'"}],"mark":{"type":"rule","color":"#111111","strokeWidth":1},"encoding":{"x2":{"field":"N2"},"y2":{"field":"R2"}}},
  {"data":{"name":"notes2"},"transform":[{"filter":"datum.p=='c0'"}],"mark":{"type":"text","align":"center","baseline":"middle","fontSize":16},"encoding":{"text":{"field":"t"}}}
 ]
 },
 {"data":{"values":[{}]},"mark":{"type":"point","shape":"M0,-1L0.6,0.8L0,0.4L-0.6,0.8Z","filled":true,"color":"#111111","opacity":1,"size":140},"encoding":{"x":{"datum":0,"type":"quantitative"},"y":{"datum":98,"type":"quantitative"}}},
 {"data":{"values":[{}]},"mark":{"type":"point","shape":"M1,0L-0.8,0.6L-0.4,0L-0.8,-0.6Z","filled":true,"color":"#111111","opacity":1,"size":140},"encoding":{"x":{"datum":15.7,"type":"quantitative"},"y":{"datum":55,"type":"quantitative"}}}
]
},
{
"width":489,"height":354,
"layer":[
 {
 "encoding":{
  "x":{"field":"N","type":"quantitative","scale":{"domain":[0,16],"nice":false,"zero":false},"axis":{"values":[1,5,10,15],"ticks":false,"domainWidth":1.6,"labelFontSize":17,"labelPadding":11,"title":"N·10³ имп.","titleFontSize":17,"titlePadding":10}},
  "y":{"field":"R","type":"quantitative","scale":{"domain":[30,100.9],"range":[354,14],"nice":false,"zero":false},"axis":{"values":[30,40,50,60,70,80,90],"tickSize":5,"tickWidth":1.4,"domainWidth":1.6,"labelFontSize":17,"labelPadding":6,"title":null}}
 },
 "layer":[
  {"data":{"name":"fit"},"transform":[{"filter":"datum.p=='c1'&&datum.s=='PbS'"}],"mark":{"type":"line","color":"#111111","strokeWidth":3.4,"strokeDash":[1.6,1.2],"interpolate":"monotone"}},
  {"data":{"name":"fit"},"transform":[{"filter":"datum.p=='c1'&&(datum.s=='FeS2'||datum.s=='FeAsS')"}],"mark":{"type":"line","color":"#111111","strokeWidth":2,"interpolate":"monotone"},"encoding":{"detail":{"field":"s"}}},
  {"data":{"name":"rec"},"transform":[{"filter":"datum.p=='c1'&&datum.s=='PbS'"}],"mark":{"type":"point","shape":"triangle-up","filled":true,"color":"#3bb24a","opacity":1,"size":150}},
  {"data":{"name":"rec"},"transform":[{"filter":"datum.p=='c1'&&datum.s=='FeS2'"}],"mark":{"type":"point","shape":"diamond","filled":true,"color":"#f7941d","opacity":1,"size":190}},
  {"data":{"name":"rec"},"transform":[{"filter":"datum.p=='c1'&&datum.s=='FeAsS'"}],"mark":{"type":"point","shape":"square","filled":true,"color":"#1b75bb","opacity":1,"size":150}},
  {"data":{"name":"notes2"},"transform":[{"filter":"datum.p=='c1'"}],"mark":{"type":"text","align":"left","baseline":"middle","fontSize":17},"encoding":{"text":{"field":"t"}}}
 ]
 },
 {"data":{"values":[{}]},"mark":{"type":"point","shape":"M0,-1L0.6,0.8L0,0.4L-0.6,0.8Z","filled":true,"color":"#111111","opacity":1,"size":140},"encoding":{"x":{"datum":0,"type":"quantitative"},"y":{"datum":100.9,"type":"quantitative"}}},
 {"data":{"values":[{}]},"mark":{"type":"point","shape":"M1,0L-0.8,0.6L-0.4,0L-0.8,-0.6Z","filled":true,"color":"#111111","opacity":1,"size":140},"encoding":{"x":{"datum":16,"type":"quantitative"},"y":{"datum":30,"type":"quantitative"}}}
]
}
],"spacing":61,"bounds":"flush"}
]
}
